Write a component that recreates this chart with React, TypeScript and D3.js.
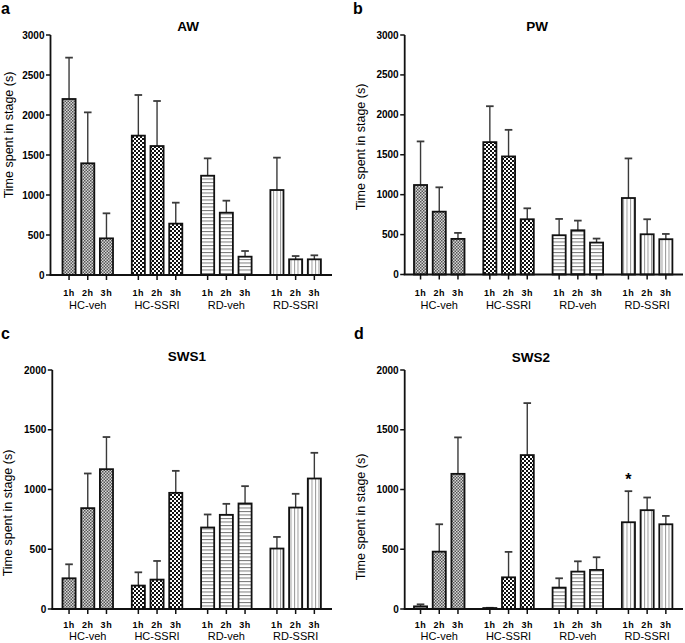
import React from "react";
import * as d3 from "d3";

const groups = ["HC-veh", "HC-SSRI", "RD-veh", "RD-SSRI"];
const hours = ["1h", "2h", "3h"];

// values in order: group x hour
const awMean = [2200, 1396, 458, 1742, 1612, 642, 1241, 779, 229, 1062, 196, 196];
const awErr = [517, 637, 313, 508, 563, 262, 217, 150, 71, 405, 41, 50];
const pwMean = [1121, 787, 446, 1658, 1479, 692, 492, 554, 400, 958, 504, 442];
const pwErr = [546, 305, 75, 450, 333, 137, 204, 121, 50, 496, 188, 66];
const sws1Mean = [257, 844, 1170, 196, 246, 972, 682, 788, 883, 506, 849, 1092];
const sws1Err = [117, 290, 269, 111, 156, 184, 109, 92, 145, 97, 115, 215];
const sws2Mean = [22, 480, 1131, 8, 265, 1288, 179, 313, 327, 726, 827, 709];
const sws2Err = [17, 229, 305, 2, 213, 435, 78, 86, 106, 260, 106, 70];

const ticks3000 = [0, 500, 1000, 1500, 2000, 2500, 3000];
const ticks2000 = [0, 500, 1000, 1500, 2000];

const FONT = "Arial, 'Liberation Sans', Helvetica, sans-serif";
const patternIds = ["pHCveh", "pHCssri", "pRDveh", "pRDssri"];

type Panel = {
  letter: string;
  title: string;
  mean: number[];
  err: number[];
  ticks: number[];
  yTop: number;
  yBottom: number;
  axisX: number;
  barStart: number;
  axisEnd: number;
  titleX: number;
  titleY: number;
  letterX: number;
  letterY: number;
  labelX: number;
  labelY: number;
  tickLabelDy: number;
  groupLabelDy: number;
  star?: number;
};

const panels: Panel[] = [
  { letter: "a", title: "AW", mean: awMean, err: awErr, ticks: ticks3000, yTop: 35, yBottom: 275, axisX: 50.5, barStart: 62.5, axisEnd: 332, titleX: 188, titleY: 31, letterX: 1, letterY: 14, labelX: 13, labelY: 135, tickLabelDy: 21, groupLabelDy: 34 },
  { letter: "b", title: "PW", mean: pwMean, err: pwErr, ticks: ticks3000, yTop: 35, yBottom: 274.5, axisX: 404.7, barStart: 414, axisEnd: 683, titleX: 537, titleY: 31, letterX: 353, letterY: 14, labelX: 365, labelY: 147, tickLabelDy: 21, groupLabelDy: 34 },
  { letter: "c", title: "SWS1", mean: sws1Mean, err: sws1Err, ticks: ticks2000, yTop: 370, yBottom: 609, axisX: 52.3, barStart: 62.5, axisEnd: 332, titleX: 187, titleY: 361, letterX: 1, letterY: 339, labelX: 12, labelY: 513, tickLabelDy: 18.5, groupLabelDy: 31 },
  { letter: "d", title: "SWS2", mean: sws2Mean, err: sws2Err, ticks: ticks2000, yTop: 370, yBottom: 609, axisX: 404.7, barStart: 414, axisEnd: 683, titleX: 531, titleY: 362, letterX: 354, letterY: 339, labelX: 365, labelY: 517, tickLabelDy: 18.5, groupLabelDy: 31, star: 9 },
];

function PanelView({ p }: { p: Panel }) {
  const yMax = p.ticks[p.ticks.length - 1];
  const y = d3.scaleLinear().domain([0, yMax]).range([p.yBottom, p.yTop]);
  const xg = d3
    .scaleBand<string>()
    .domain(groups)
    .range([p.barStart, p.barStart + 258.4])
    .paddingInner(0.271)
    .paddingOuter(0);
  const xh = d3
    .scaleBand<string>()
    .domain(hours)
    .range([0, xg.bandwidth()])
    .paddingInner(0.3)
    .paddingOuter(0);
  const bw = xh.bandwidth();
  const bars = groups.flatMap((g, gi) =>
    hours.map((h, hi) => {
      const i = gi * 3 + hi;
      return { g, h, gi, i, x: (xg(g) as number) + (xh(h) as number), v: p.mean[i], e: p.err[i] };
    })
  );
  return (
    <g>
      <text x={p.letterX} y={p.letterY} fontFamily={FONT} fontWeight="bold" fontSize={16}>
        {p.letter}
      </text>
      <text x={p.titleX} y={p.titleY} textAnchor="middle" fontFamily={FONT} fontWeight="bold" fontSize={13.5}>
        {p.title}
      </text>
      <text
        transform={`translate(${p.labelX},${p.labelY}) rotate(-90)`}
        textAnchor="middle"
        fontFamily={FONT}
        fontSize={12.5}
      >
        Time spent in stage (s)
      </text>
      {/* error bars */}
      {bars.map((b) => {
        const cx = b.x + bw / 2;
        return (
          <g key={"e" + b.i} stroke="#3a3a3a" strokeWidth={1.4}>
            <line x1={cx} x2={cx} y1={y(b.v)} y2={y(b.v + b.e)} />
            <line x1={cx - 3.8} x2={cx + 3.8} y1={y(b.v + b.e)} y2={y(b.v + b.e)} strokeWidth={1.8} />
          </g>
        );
      })}
      {/* bars */}
      {bars.map((b) => (
        <rect
          key={"b" + b.i}
          x={b.x}
          y={y(b.v)}
          width={bw}
          height={Math.max(0, p.yBottom - y(b.v))}
          fill={`url(#${patternIds[b.gi]})`}
          stroke="#111"
          strokeWidth={1.8}
        />
      ))}
      {/* y axis */}
      <line x1={p.axisX} x2={p.axisX} y1={p.yTop} y2={p.yBottom} stroke="#111" strokeWidth={1.8} />
      {p.ticks.map((t) => (
        <g key={"yt" + t}>
          <line x1={p.axisX - 4.5} x2={p.axisX} y1={y(t)} y2={y(t)} stroke="#111" strokeWidth={1.5} />
          <text
            x={p.axisX - 6}
            y={y(t)}
            dy="0.35em"
            textAnchor="end"
            fontFamily={FONT}
            fontWeight="bold"
            fontSize={10}
          >
            {t}
          </text>
        </g>
      ))}
      {/* x axis */}
      <line x1={p.axisX - 1} x2={p.axisEnd} y1={p.yBottom} y2={p.yBottom} stroke="#111" strokeWidth={1.8} />
      {bars.map((b) => {
        const cx = b.x + bw / 2;
        return (
          <g key={"xt" + b.i}>
            <line x1={cx} x2={cx} y1={p.yBottom} y2={p.yBottom + 5} stroke="#111" strokeWidth={1.5} />
            <text
              x={cx}
              y={p.yBottom + p.tickLabelDy}
              textAnchor="middle"
              fontFamily={FONT}
              fontWeight="bold"
              fontSize={9}
              letterSpacing={0.6}
            >
              {b.h}
            </text>
          </g>
        );
      })}
      {groups.map((g) => (
        <text
          key={"gl" + g}
          x={(xg(g) as number) + xg.bandwidth() / 2}
          y={p.yBottom + p.groupLabelDy}
          textAnchor="middle"
          fontFamily={FONT}
          fontSize={11}
        >
          {g}
        </text>
      ))}
      {p.star !== undefined && (
        <text
          x={bars[p.star].x + bw / 2}
          y={y(p.mean[p.star] + p.err[p.star]) - 6}
          textAnchor="middle"
          fontFamily={FONT}
          fontWeight="bold"
          fontSize={16}
        >
          *
        </text>
      )}
    </g>
  );
}

export default function App() {
  return (
    <svg
      width={685}
      height={643}
      style={{ position: "absolute", left: 0, top: 0, background: "#fff" }}
    >
      <defs>
        <pattern id="pHCveh" patternUnits="userSpaceOnUse" width={3} height={3}>
          <rect width={3} height={3} fill="#d8d8d8" />
          <rect x={0} y={0} width={1.5} height={1.5} fill="#555" />
          <rect x={1.5} y={1.5} width={1.5} height={1.5} fill="#555" />
        </pattern>
        <pattern id="pHCssri" patternUnits="userSpaceOnUse" width={4} height={4}>
          <rect width={4} height={4} fill="#fff" />
          <rect x={0} y={0} width={2} height={2} fill="#111" />
          <rect x={2} y={2} width={2} height={2} fill="#111" />
        </pattern>
        <pattern id="pRDveh" patternUnits="userSpaceOnUse" width={4} height={3.5}>
          <rect width={4} height={3.5} fill="#fff" />
          <rect x={0} y={0} width={4} height={1} fill="#777" />
        </pattern>
        <pattern id="pRDssri" patternUnits="userSpaceOnUse" width={3.5} height={4}>
          <rect width={3.5} height={4} fill="#fff" />
          <rect x={0} y={0} width={1} height={4} fill="#999" />
        </pattern>
      </defs>
      <rect width={685} height={643} fill="#fff" />
      {panels.map((p) => (
        <PanelView key={p.letter} p={p} />
      ))}
    </svg>
  );
}
